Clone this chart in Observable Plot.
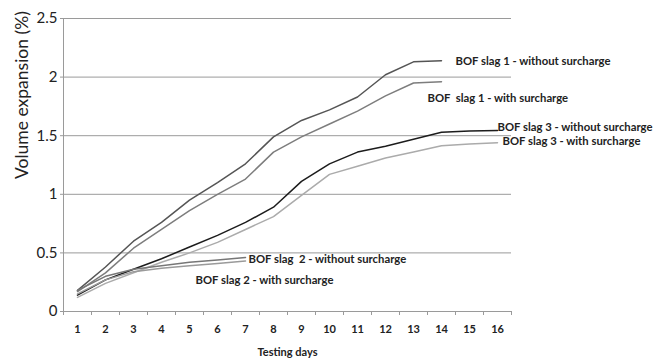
<!DOCTYPE html>
<html>
<head>
<meta charset="utf-8">
<script src="https://cdn.jsdelivr.net/npm/d3@7"></script>
<script src="https://cdn.jsdelivr.net/npm/@observablehq/plot@0.6"></script>
<style>
  html, body { margin: 0; padding: 0; background: #fff; }
  svg text { white-space: pre; }
</style>
</head>
<body>
<div id="chart"></div>
<script>
// ---- data ----
const days = [1, 2, 3, 4, 5, 6, 7, 8, 9, 10, 11, 12, 13, 14, 15, 16];
const yTicks = [0, 0.5, 1, 1.5, 2, 2.5];
const yTitle = "Volume expansion (%)";
const xTitle = "Testing days";

const seriesNames = [
  "BOF slag 1 - without surcharge",
  "BOF  slag 1 - with surcharge",
  "BOF slag 3 - without surcharge",
  "BOF slag 3 - with surcharge",
  "BOF slag  2 - without surcharge",
  "BOF slag 2 - with surcharge"
];
const slag1Without = [0.18, 0.38, 0.60, 0.76, 0.95, 1.10, 1.26, 1.49, 1.63, 1.72, 1.83, 2.02, 2.13, 2.14];
const slag1With    = [0.17, 0.33, 0.54, 0.70, 0.86, 1.00, 1.13, 1.36, 1.49, 1.60, 1.71, 1.84, 1.95, 1.96];
const slag3Without = [0.14, 0.27, 0.36, 0.45, 0.55, 0.65, 0.76, 0.89, 1.11, 1.26, 1.36, 1.41, 1.47, 1.53, 1.54, 1.545];
const slag3With    = [0.12, 0.24, 0.33, 0.42, 0.50, 0.59, 0.70, 0.81, 0.99, 1.17, 1.24, 1.31, 1.36, 1.415, 1.43, 1.44];
const slag2Without = [0.18, 0.30, 0.36, 0.39, 0.42, 0.44, 0.46];
const slag2With    = [0.15, 0.27, 0.34, 0.37, 0.39, 0.41, 0.43];

const seriesValues = [slag1Without, slag1With, slag3Without, slag3With, slag2Without, slag2With];

// ---- styles ----
const seriesColors = ["#555555", "#7d7d7d", "#1c1c1c", "#ababab", "#777777", "#9a9a9a"];
const labelOffsets = [[14, 1], [-14, 17], [0, -3], [5, -1.5], [3, 2], [-50, 19]];

// ---- build table ----
const rows = seriesNames.flatMap((name, i) =>
  seriesValues[i].map((v, j) => ({series: name, day: days[j], value: v}))
);
const lastPoints = seriesNames.map((name, i) => ({
  series: name,
  day: days[seriesValues[i].length - 1],
  value: seriesValues[i][seriesValues[i].length - 1],
  idx: i
}));
const boundaries = [days[0] - 0.5, ...days.map(d => d + 0.5)];

const chart = Plot.plot({
  width: 656,
  height: 359,
  marginLeft: 63,
  marginRight: 145,
  marginTop: 18,
  marginBottom: 48,
  style: {fontFamily: "Lato, 'Open Sans', sans-serif", color: "#222", background: "#fff"},
  x: {domain: [boundaries[0], boundaries[boundaries.length - 1]]},
  y: {domain: [yTicks[0], yTicks[yTicks.length - 1]]},
  color: {domain: seriesNames, range: seriesColors},
  marks: [
    Plot.gridY(yTicks, {stroke: "#9a9a9a", strokeOpacity: 1, strokeWidth: 1}),
    Plot.ruleX([boundaries[0]], {stroke: "#9a9a9a", strokeWidth: 1}),
    Plot.ruleY([yTicks[0]], {stroke: "#9a9a9a", strokeWidth: 1}),
    Plot.axisY({
      ticks: yTicks,
      tickSize: 3,
      tickPadding: 3,
      stroke: "#9a9a9a",
      fontSize: 15,
      tickFormat: d => String(d),
      label: null
    }),
    Plot.text([yTitle], {
      frameAnchor: "left",
      rotate: -90,
      dx: -41,
      dy: 14,
      fontSize: 17.5,
      fill: "#222",
      text: d => d
    }),
    Plot.axisX({
      ticks: boundaries,
      tickSize: 4,
      stroke: "#9a9a9a",
      tickFormat: () => "",
      label: null
    }),
    Plot.axisX({
      ticks: days,
      tickSize: 0,
      tickPadding: 14,
      fontSize: 11,
      fontWeight: "bold",
      tickFormat: d => String(d),
      label: xTitle,
      labelAnchor: "center",
      labelArrow: "none",
      labelOffset: 44
    }),
    Plot.line(rows, {x: "day", y: "value", z: "series", stroke: "series", strokeWidth: 1.5}),
    Plot.text(lastPoints, {
      x: "day",
      y: "value",
      text: "series",
      textAnchor: "start",
      fontSize: 11.3,
      fontWeight: "bold",
      fill: "#222",
      render: (index, scales, values, dims, context, next) => {
        const g = next(index, scales, values, dims, context);
        d3.select(g).selectAll("text").each(function(_, k) {
          const i = index[k];
          const [ox, oy] = labelOffsets[lastPoints[i].idx];
          const t = d3.select(this);
          const tr = t.attr("transform") || "";
          t.attr("transform", tr + ` translate(${ox},${oy})`);
        });
        return g;
      }
    })
  ]
});
document.getElementById("chart").appendChild(chart);
</script>
</body>
</html>
